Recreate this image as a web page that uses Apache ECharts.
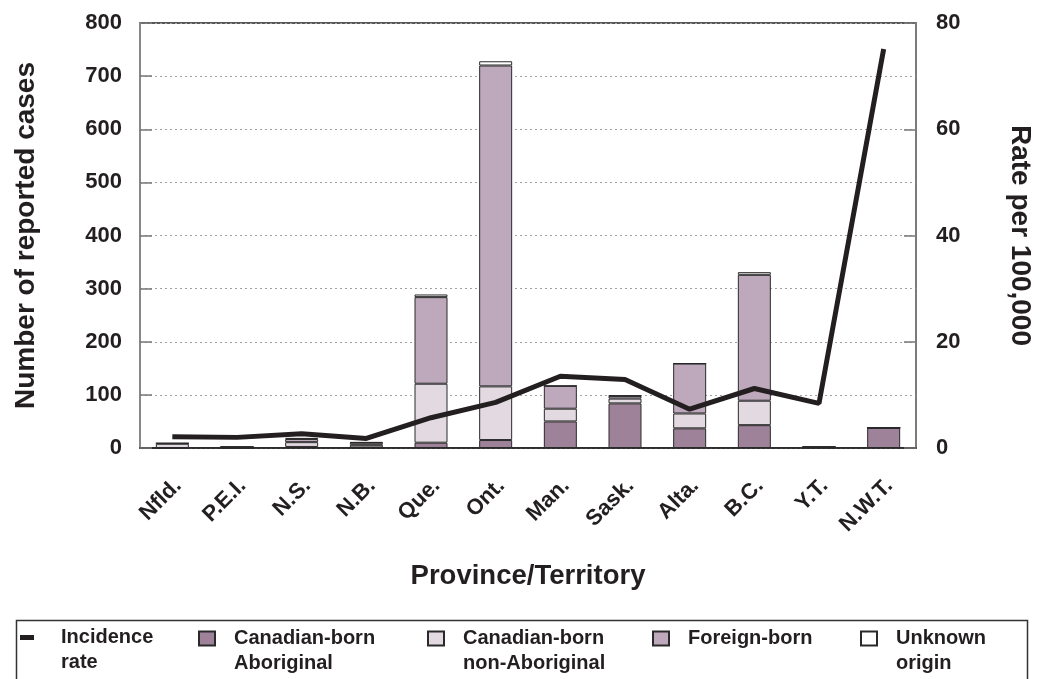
<!DOCTYPE html>
<html>
<head>
<meta charset="utf-8">
<script src="https://cdn.jsdelivr.net/npm/echarts@6/dist/echarts.min.js"></script>
<style>
html,body{margin:0;padding:0;background:#fff;}
#chart{width:1042px;height:679px;}
</style>
</head>
<body>
<div id="chart"></div>
<script>
const categories = ['Nfld.','P.E.I.','N.S.','N.B.','Que.','Ont.','Man.','Sask.','Alta.','B.C.','Y.T.','N.W.T.'];
const aboriginal    = [0, 0, 2, 1, 10, 15, 50, 84, 37, 43, 1, 38];
const nonAboriginal = [8, 2, 9, 5, 111, 101, 24, 9, 28, 46, 1, 0];
const foreignBorn   = [1, 0, 6, 4, 163, 604, 43, 5, 94, 237, 0, 0];
const unknownOrigin = [0, 0, 2, 1, 5, 8, 0, 1, 0, 5, 0, 0];
const incidenceRate = [2.1, 2.0, 2.7, 1.8, 5.7, 8.6, 13.5, 12.9, 7.3, 11.2, 8.4, 75.1];
const leftTicks = [0, 100, 200, 300, 400, 500, 600, 700, 800];
const rightTicks = [0, 20, 40, 60, 80];

const FONT = 'Liberation Sans, Arial, Helvetica, sans-serif';
const DARK = '#231f20';
const legendText = {fontFamily: FONT, fontWeight: 'bold', fontSize: 20, color: DARK, lineHeight: 25};

const chart = echarts.init(document.getElementById('chart'), null, {renderer: 'canvas'});

const legendLabels = {
  'Incidence rate': ' \nIncidence\nrate',
  'Canadian-born Aboriginal': ' \nCanadian-born\nAboriginal',
  'Canadian-born non-Aboriginal': ' \nCanadian-born\nnon-Aboriginal',
  'Foreign-born': 'Foreign-born',
  'Unknown origin': ' \nUnknown\norigin'
};

function legendItem(name, left, top, iconW, iconH, padLeft) {
  return {
    left: left, top: top, padding: 0, orient: 'horizontal',
    itemWidth: iconW, itemHeight: iconH, icon: 'rect',
    selectedMode: false,
    data: [name],
    formatter: function (n) { return legendLabels[n]; },
    textStyle: Object.assign({}, legendText, {padding: [0, 0, 0, padLeft]})
  };
}

const barStyle = (c) => ({color: c, borderColor: '#2a2a2a', borderWidth: 1});

const option = {
  backgroundColor: '#fff',
  animation: false,
  grid: {left: 140, right: 123, top: 23, bottom: 231, show: true, borderColor: DARK, borderWidth: 1.5, backgroundColor: 'transparent'},
  legend: [
    legendItem('Incidence rate', 20, 600, 14, 5, 22),
    legendItem('Canadian-born Aboriginal', 198, 601, 16, 14, 14),
    legendItem('Canadian-born non-Aboriginal', 427, 601, 16, 14, 14),
    legendItem('Foreign-born', 652, 626, 16, 14, 14),
    legendItem('Unknown origin', 860, 601, 16, 14, 14)
  ],
  graphic: [{
    type: 'rect', left: 14, top: 618, silent: true,
    shape: {width: 1011, height: 80},
    style: {fill: 'none', stroke: '#333', lineWidth: 1.5}
  }],
  xAxis: {
    type: 'category',
    data: categories,
    name: 'Province/Territory',
    nameLocation: 'middle',
    nameGap: 114,
    nameTextStyle: {fontFamily: FONT, fontWeight: 'bold', fontSize: 27.5, color: DARK},
    axisLine: {lineStyle: {color: DARK, width: 1.5}},
    axisTick: {alignWithLabel: true, length: 11, lineStyle: {color: '#777', width: 1.5}},
    axisLabel: {rotate: 45, margin: 40, padding: [0, -8, 0, 0], fontFamily: FONT, fontWeight: 'bold', fontSize: 22, color: DARK, interval: 0},
    splitLine: {show: false}
  },
  yAxis: [{
    type: 'value', min: 0, max: 800, interval: 100,
    name: 'Number of reported cases',
    nameLocation: 'middle',
    nameGap: 100,
    nameTextStyle: {fontFamily: FONT, fontWeight: 'bold', fontSize: 28, color: DARK},
    axisLine: {show: true, lineStyle: {color: '#888', width: 2}},
    axisTick: {show: true, inside: true, length: 12, lineStyle: {color: '#777', width: 1.5}},
    axisLabel: {margin: 18, fontFamily: FONT, fontWeight: 'bold', fontSize: 22, color: DARK,
      formatter: (v) => leftTicks.includes(v) ? String(v) : ''},
    splitLine: {show: true, lineStyle: {color: '#a0a0a0', type: [2, 3], width: 1.2}}
  }, {
    type: 'value', min: 0, max: 80, interval: 20,
    position: 'right',
    name: 'Rate per 100,000',
    nameLocation: 'middle',
    nameGap: 90,
    nameRotate: -90,
    nameTextStyle: {fontFamily: FONT, fontWeight: 'bold', fontSize: 28, color: DARK},
    axisLine: {show: true, lineStyle: {color: '#888', width: 1.5}},
    axisTick: {show: true, inside: true, length: 12, lineStyle: {color: '#777', width: 1.5}},
    axisLabel: {margin: 20, fontFamily: FONT, fontWeight: 'bold', fontSize: 22, color: DARK,
      formatter: (v) => rightTicks.includes(v) ? String(v) : ''},
    splitLine: {show: false}
  }],
  series: [
    {name: 'Canadian-born Aboriginal', type: 'bar', stack: 'cases', barWidth: 33, data: aboriginal, itemStyle: barStyle('#9e8299')},
    {name: 'Canadian-born non-Aboriginal', type: 'bar', stack: 'cases', barWidth: 33, data: nonAboriginal, itemStyle: barStyle('#e3d9e1')},
    {name: 'Foreign-born', type: 'bar', stack: 'cases', barWidth: 33, data: foreignBorn, itemStyle: barStyle('#bea9bc')},
    {name: 'Unknown origin', type: 'bar', stack: 'cases', barWidth: 33, data: unknownOrigin, itemStyle: barStyle('#ffffff')},
    {name: 'Incidence rate', type: 'line', yAxisIndex: 1, data: incidenceRate, symbol: 'none',
      lineStyle: {color: DARK, width: 5}, itemStyle: {color: DARK}, z: 5}
  ]
};
chart.setOption(option);
</script>
</body>
</html>
